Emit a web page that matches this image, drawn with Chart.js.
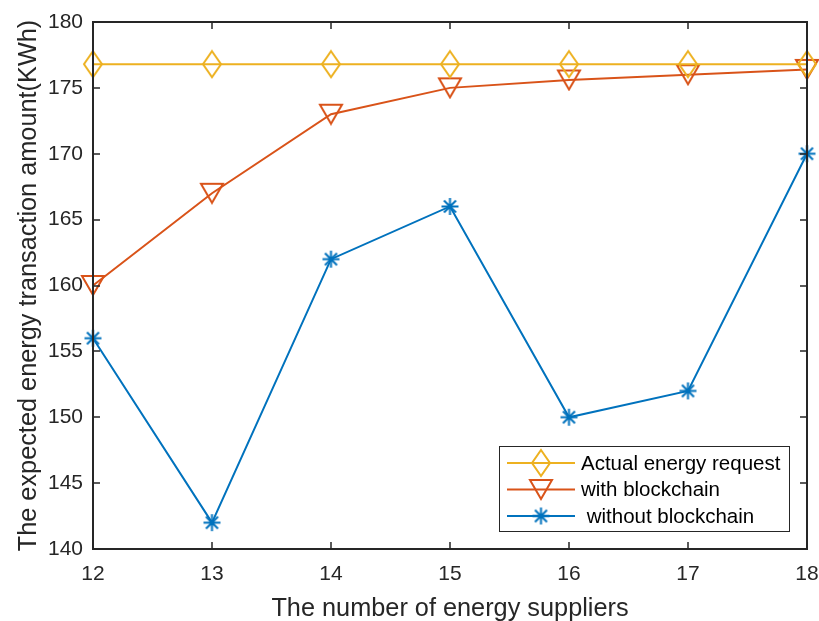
<!DOCTYPE html>
<html>
<head>
<meta charset="utf-8">
<script src="https://cdn.jsdelivr.net/npm/chart.js@4"></script>
<style>
  html, body { margin: 0; padding: 0; background: #fff; }
  #wrap { width: 819px; height: 621px; }
</style>
</head>
<body>
<div id="wrap"><canvas id="chart" width="819" height="621"></canvas></div>
<script>
const suppliers = [12, 13, 14, 15, 16, 17, 18];
const actualRequest = [176.8, 176.8, 176.8, 176.8, 176.8, 176.8, 176.8];
const withBlockchain = [160, 167, 173, 175, 175.6, 176, 176.4];
const withoutBlockchain = [156, 142, 162, 166, 150, 152, 170];
const yTicks = [140, 145, 150, 155, 160, 165, 170, 175, 180];
const seriesNames = ['Actual energy request', 'with blockchain', ' without blockchain'];

const axisColor = '#262626';
const font = 'Liberation Sans, Arial, sans-serif';

const toPoints = ys => suppliers.map((x, i) => ({x: x, y: ys[i]}));

// matlab-ish markers drawn once into small canvases
function marker(kind, color, w, h) {
    const c = document.createElement('canvas');
    c.width = w + 4; c.height = h + 4;
    const g = c.getContext('2d');
    g.strokeStyle = color;
    g.lineWidth = 2;
    const cx = c.width / 2, cy = c.height / 2;
    g.beginPath();
    if (kind === 'diamond') {
        g.moveTo(cx, cy - h / 2); g.lineTo(cx + w / 2, cy);
        g.lineTo(cx, cy + h / 2); g.lineTo(cx - w / 2, cy);
        g.closePath();
    } else if (kind === 'vtri') {
        g.moveTo(cx - w / 2, cy - h / 2); g.lineTo(cx + w / 2, cy - h / 2);
        g.lineTo(cx, cy + h / 2);
        g.closePath();
    } else {
        const r = w / 2;
        for (let k = 0; k < 4; k++) {
            const a = k * Math.PI / 4;
            g.moveTo(cx - r * Math.cos(a), cy - r * Math.sin(a));
            g.lineTo(cx + r * Math.cos(a), cy + r * Math.sin(a));
        }
    }
    g.stroke();
    return c;
}

const colors = ['#EDB120', '#D95319', '#0072BD'];
const markers = [
    marker('diamond', colors[0], 18, 26),
    marker('vtri', colors[1], 22, 19),
    marker('star', colors[2], 17, 17)
];

// box, inward ticks and the legend
const matlabAxes = {
    id: 'matlabAxes',
    afterDatasetsDraw(chart) {
        const ctx = chart.ctx;
        const a = chart.chartArea;
        const xs = chart.scales.x, ys = chart.scales.y;
        ctx.save();
        ctx.strokeStyle = axisColor;
        ctx.lineWidth = 2;
        ctx.strokeRect(a.left, a.top, a.right - a.left, a.bottom - a.top);
        ctx.lineWidth = 1.5;
        ctx.beginPath();
        suppliers.forEach(v => {
            const px = Math.round(xs.getPixelForValue(v));
            ctx.moveTo(px, a.bottom); ctx.lineTo(px, a.bottom - 7);
            ctx.moveTo(px, a.top); ctx.lineTo(px, a.top + 7);
        });
        yTicks.forEach(v => {
            const py = Math.round(ys.getPixelForValue(v));
            ctx.moveTo(a.left, py); ctx.lineTo(a.left + 7, py);
            ctx.moveTo(a.right, py); ctx.lineTo(a.right - 7, py);
        });
        ctx.stroke();

        // legend
        const lx = 499, ly = 446, lw = 290, lh = 85;
        ctx.fillStyle = '#fff';
        ctx.fillRect(lx, ly, lw, lh);
        ctx.strokeStyle = '#262626';
        ctx.lineWidth = 1;
        ctx.strokeRect(lx + 0.5, ly + 0.5, lw, lh);
        ctx.font = '20.5px ' + font;
        ctx.textBaseline = 'middle';
        chart.data.datasets.forEach((ds, i) => {
            const y = ly + 17 + i * 26.5;
            ctx.strokeStyle = ds.borderColor;
            ctx.lineWidth = 2;
            ctx.beginPath();
            ctx.moveTo(507, y); ctx.lineTo(575, y);
            ctx.stroke();
            const m = markers[i];
            ctx.drawImage(m, 541 - m.width / 2, y - m.height / 2);
            ctx.fillStyle = '#000';
            ctx.fillText(seriesNames[i], 581, y + 1);
        });
        ctx.restore();
    }
};

const mk = (i, data) => ({
    label: seriesNames[i],
    data: toPoints(data),
    borderColor: colors[i],
    backgroundColor: 'transparent',
    borderWidth: 2,
    pointStyle: markers[i],
    pointRadius: 10,
    pointHoverRadius: 10,
    tension: 0
});

new Chart(document.getElementById('chart'), {
    type: 'line',
    data: {
        datasets: [
            mk(0, actualRequest),
            mk(1, withBlockchain),
            mk(2, withoutBlockchain)
        ]
    },
    options: {
        responsive: false,
        animation: false,
        devicePixelRatio: 1,
        clip: false,
        layout: {padding: {left: 0, right: 12, top: 22, bottom: 0}},
        plugins: {legend: {display: false}, tooltip: {enabled: false}},
        scales: {
            x: {
                type: 'linear', min: 12, max: 18,
                afterFit: s => { s.height = 72; s.paddingLeft = 0; s.paddingRight = 0; },
                afterBuildTicks: s => { s.ticks = suppliers.map(v => ({value: v})); },
                grid: {display: false, drawTicks: false, tickLength: 0},
                border: {display: false},
                ticks: {color: axisColor, font: {family: font, size: 21}, padding: 13, maxRotation: 0},
                title: {display: true, text: 'The number of energy suppliers', color: axisColor,
                        font: {family: font, size: 25.3}, padding: {top: 0, bottom: -3}}
            },
            y: {
                min: 140, max: 180,
                afterFit: s => { s.width = 93; s.paddingTop = 0; s.paddingBottom = 0; },
                afterBuildTicks: s => { s.ticks = yTicks.map(v => ({value: v})); },
                grid: {display: false, drawTicks: false, tickLength: 0},
                border: {display: false},
                ticks: {color: axisColor, font: {family: font, size: 21}, padding: 10},
                title: {display: true, text: 'The expected energy transaction amount(KWh)', color: axisColor,
                        font: {family: font, size: 25.3}, padding: {top: 14, bottom: 0}}
            }
        }
    },
    plugins: [matlabAxes]
});
</script>
</body>
</html>
